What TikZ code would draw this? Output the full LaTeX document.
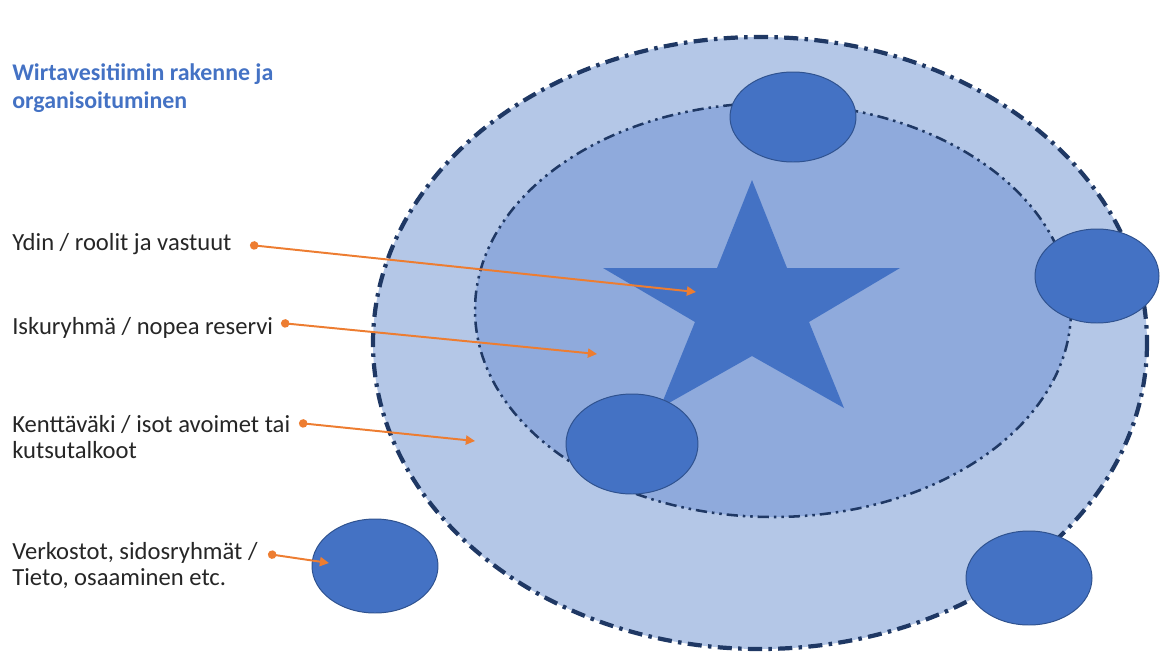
\documentclass[tikz,border=0pt]{standalone}
\usepackage{fontspec}
\setmainfont{Carlito}
\usepackage{tikz}
\usetikzlibrary{arrows.meta, calc, positioning}

\definecolor{ringlight}{HTML}{B4C7E7}
\definecolor{ringmid}{HTML}{8FAADC}
\definecolor{teamblue}{HTML}{4472C4}
\definecolor{teamedge}{HTML}{2F528F}
\definecolor{ringedge}{HTML}{1F3864}
\definecolor{pointer}{HTML}{ED7D31}
\definecolor{labeltext}{HTML}{262626}

\begin{document}
\begin{tikzpicture}[x=0.025cm, y=-0.025cm,
  sidetext/.style={anchor=west, align=left, text=labeltext, inner sep=0pt,
    font=\fontsize{17.5}{18.5}\selectfont},
  team/.style={fill=teamblue, draw=teamedge, line width=0.7pt},
  arrowline/.style={draw=pointer, line width=1.4pt,
    {Circle[length=6pt]}-{Triangle[length=6.5pt, width=6.5pt]}}
]
\useasboundingbox (0,0) rectangle (1160,652);

% Outer ring
\draw[fill=ringlight, draw=ringedge, line width=3pt,
  dash pattern=on 10pt off 4.5pt on 2.5pt off 4.5pt] (760,343) ellipse (387 and 306);

% Inner ring
\draw[fill=ringmid, draw=ringedge, line width=1.8pt,
  dash pattern=on 8pt off 3.5pt on 1.8pt off 3.5pt on 1.8pt off 3.5pt] (773,310) ellipse (298 and 207);

% Star
\fill[teamblue] (752,180) -- (787,268) -- (900,268) -- (809,322) -- (844,408)
  -- (752,356) -- (660,408) -- (695,322) -- (603,268) -- (717,268) -- cycle;

% Small groups
\draw[team] (793,117) ellipse (63 and 45);
\draw[team] (1097,276) ellipse (62 and 47);
\draw[team] (632,444) ellipse (66 and 50);
\draw[team] (1029,578) ellipse (63 and 47);
\draw[team] (375,566) ellipse (63 and 47);

% Texts
\node[sidetext, text=teamblue, font=\fontsize{17}{20}\selectfont\bfseries] (otsikko) at (12,88)
  {Wirtavesitiimin rakenne ja\\organisoituminen};
\node[sidetext] (ydin) at (12,244) {Ydin / roolit ja vastuut};
\node[sidetext] (isku) at (12,328) {Iskuryhmä / nopea reservi};
\node[sidetext] (kentta) at (12,437) {Kenttäväki / isot avoimet tai\\kutsutalkoot};
\node[sidetext] (verkosto) at (12,566) {Verkostot, sidosryhmät /\\Tieto, osaaminen etc.};

% Arrow ends
\coordinate (ydinS) at (250,245);
\coordinate (ydinE) at (696,292);
\coordinate (iskuS) at (281,323);
\coordinate (iskuE) at (597,354);
\coordinate (kenttaS) at (299,423);
\coordinate (kenttaE) at (475,441);
\coordinate (verkostoS) at (268,554);
\coordinate (verkostoE) at (329,563);

% Arrows
\draw[arrowline] (ydinS) -- (ydinE);
\draw[arrowline] (iskuS) -- (iskuE);
\draw[arrowline] (kenttaS) -- (kenttaE);
\draw[arrowline] (verkostoS) -- (verkostoE);

\end{tikzpicture}
\end{document}
